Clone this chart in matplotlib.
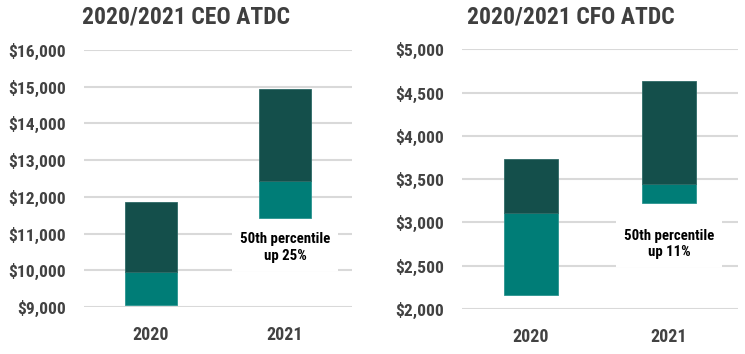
import matplotlib
matplotlib.use("Agg")
import matplotlib.pyplot as plt
from matplotlib import font_manager
from matplotlib.ticker import FuncFormatter

names = {f.name for f in font_manager.fontManager.ttflist}
font = next(n for n in ["Roboto Condensed", "Liberation Sans Narrow", "Roboto"] if n in names)
plt.rcParams["font.family"] = [font, "DejaVu Sans"]

years = ["2020", "2021"]

ceo_low = [9060, 11430]
ceo_median = [9960, 12445]
ceo_high = [11860, 14950]

cfo_low = [2162, 3219]
cfo_median = [3104, 3442]
cfo_high = [3727, 4631]

dark = "#144f4b"
teal = "#007d77"
grid = "#d9d9d9"
label_col = "#424242"

fig = plt.figure(figsize=(7.45, 3.54), dpi=100)
ax1 = fig.add_axes([84 / 745, 1 - 307 / 354, 268 / 745, 257 / 354])
ax2 = fig.add_axes([462 / 745, 1 - 309 / 354, 276 / 745, 259.7 / 354])


def draw(ax, low, med, high, ylim, step, title, title_x, note, note_y):
    x = range(len(years))
    lo_h = [m - l for l, m in zip(low, med)]
    hi_h = [h - m for m, h in zip(med, high)]
    ax.bar(x, lo_h, bottom=low, width=0.39, color=teal, edgecolor="#2a9490", linewidth=0.6, zorder=3)
    ax.bar(x, hi_h, bottom=med, width=0.39, color=dark, edgecolor="#2e6a66", linewidth=0.6, zorder=3)
    ax.set_xlim(-0.5, 1.5)
    ax.set_ylim(*ylim)
    ax.set_yticks(range(ylim[0], ylim[1] + 1, step))
    ax.yaxis.set_major_formatter(FuncFormatter(lambda v, p: f"${v:,.0f}"))
    ax.set_xticks(list(x))
    ax.set_xticklabels(years)
    ax.grid(axis="y", color=grid, linewidth=1.5, zorder=0)
    ax.set_axisbelow(True)
    for s in ax.spines.values():
        s.set_visible(False)
    ax.tick_params(length=0, labelcolor=label_col)
    ax.tick_params(axis="y", pad=13, labelsize=12.6)
    ax.tick_params(axis="x", pad=14, labelsize=13)
    for t in ax.get_xticklabels() + ax.get_yticklabels():
        t.set_fontweight("bold")
    ax.text(1, note_y, note, ha="center", va="center", fontsize=10.7, fontweight="bold",
            color="black", linespacing=1.2, zorder=4,
            bbox=dict(facecolor="white", edgecolor="none", pad=6))
    fig.text(title_x / 745, 1 - 17 / 354, title, ha="left", va="center", fontsize=17,
             fontweight="bold", color="#3f3f3f")


draw(ax1, ceo_low, ceo_median, ceo_high, (9000, 16000), 1000,
     "2020/2021 CEO ATDC", 82, "50th percentile\nup 25%", 10620)
draw(ax2, cfo_low, cfo_median, cfo_high, (2000, 5000), 500,
     "2020/2021 CFO ATDC", 467, "50th percentile\nup 11%", 2755)

fig.savefig("out.png", dpi=100, facecolor="white")
